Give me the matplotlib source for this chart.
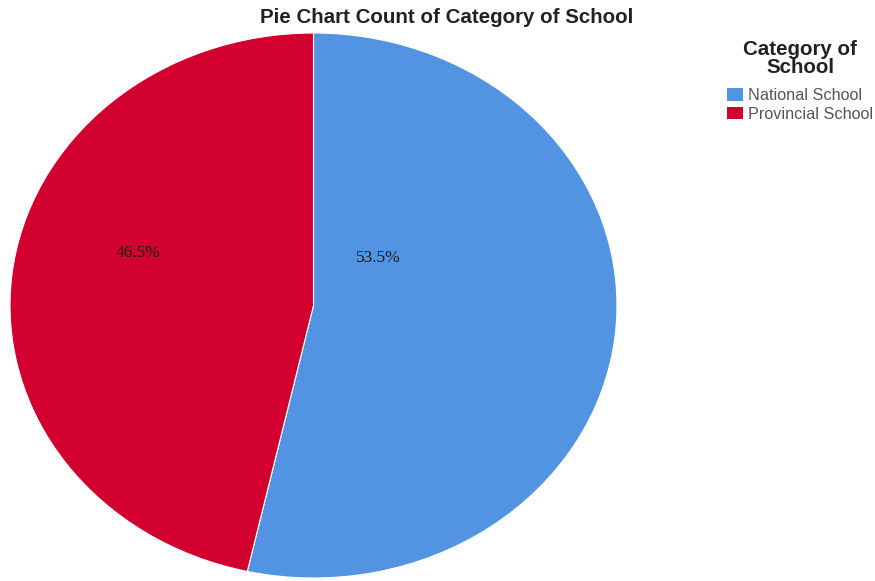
import matplotlib
matplotlib.use("Agg")
import matplotlib.pyplot as plt
from matplotlib.patches import Patch

categories = ["National School", "Provincial School"]
shares = [53.5, 46.5]
colors = ["#5294E2", "#D1002E"]
label_pos = [(0.215, 0.176), (-0.578, 0.194)]

fig = plt.figure(figsize=(8.75, 5.81), dpi=100)
ax = fig.add_axes([10 / 875, 3 / 581, 607 / 875, 545 / 581])

wedges, _, autotexts = ax.pie(
    shares, colors=colors, startangle=90, counterclock=False,
    autopct="%.1f%%", wedgeprops=dict(linewidth=0.8, edgecolor="white"),
    textprops=dict(fontfamily="Liberation Serif", fontsize=12.5, color="#1a1a1a"),
)
for t, (x, y) in zip(autotexts, label_pos):
    t.set_position((x, y))
ax.set_aspect("auto")
ax.set_xlim(-1, 1)
ax.set_ylim(-1, 1)
ax.axis("off")

fig.text(0.51, 0.970, "Pie Chart Count of Category of School", ha="center", va="center",
         fontfamily="Liberation Sans", fontweight="bold", fontsize=14.8, color="#222222")

# Legend heading drawn separately so its gap to the entries can be set freely
fig.text(800 / 875, 1 - 40 / 581, "Category of\nSchool", ha="center", va="top",
         multialignment="center", linespacing=0.95,
         fontfamily="Liberation Sans", fontweight="bold", fontsize=14.8, color="#222222")

handles = [Patch(facecolor=c, edgecolor="none") for c in colors]
leg = fig.legend(handles, categories, loc="upper left", bbox_to_anchor=(727 / 875, 1 - 88 / 581),
                 frameon=False,
                 prop=dict(family="Liberation Sans", size=11.7),
                 handlelength=0.98, handleheight=0.8, handletextpad=0.3, labelspacing=0.22,
                 borderpad=0, borderaxespad=0)
for t in leg.get_texts():
    t.set_color("#555555")

fig.savefig("out.png", dpi=100)
